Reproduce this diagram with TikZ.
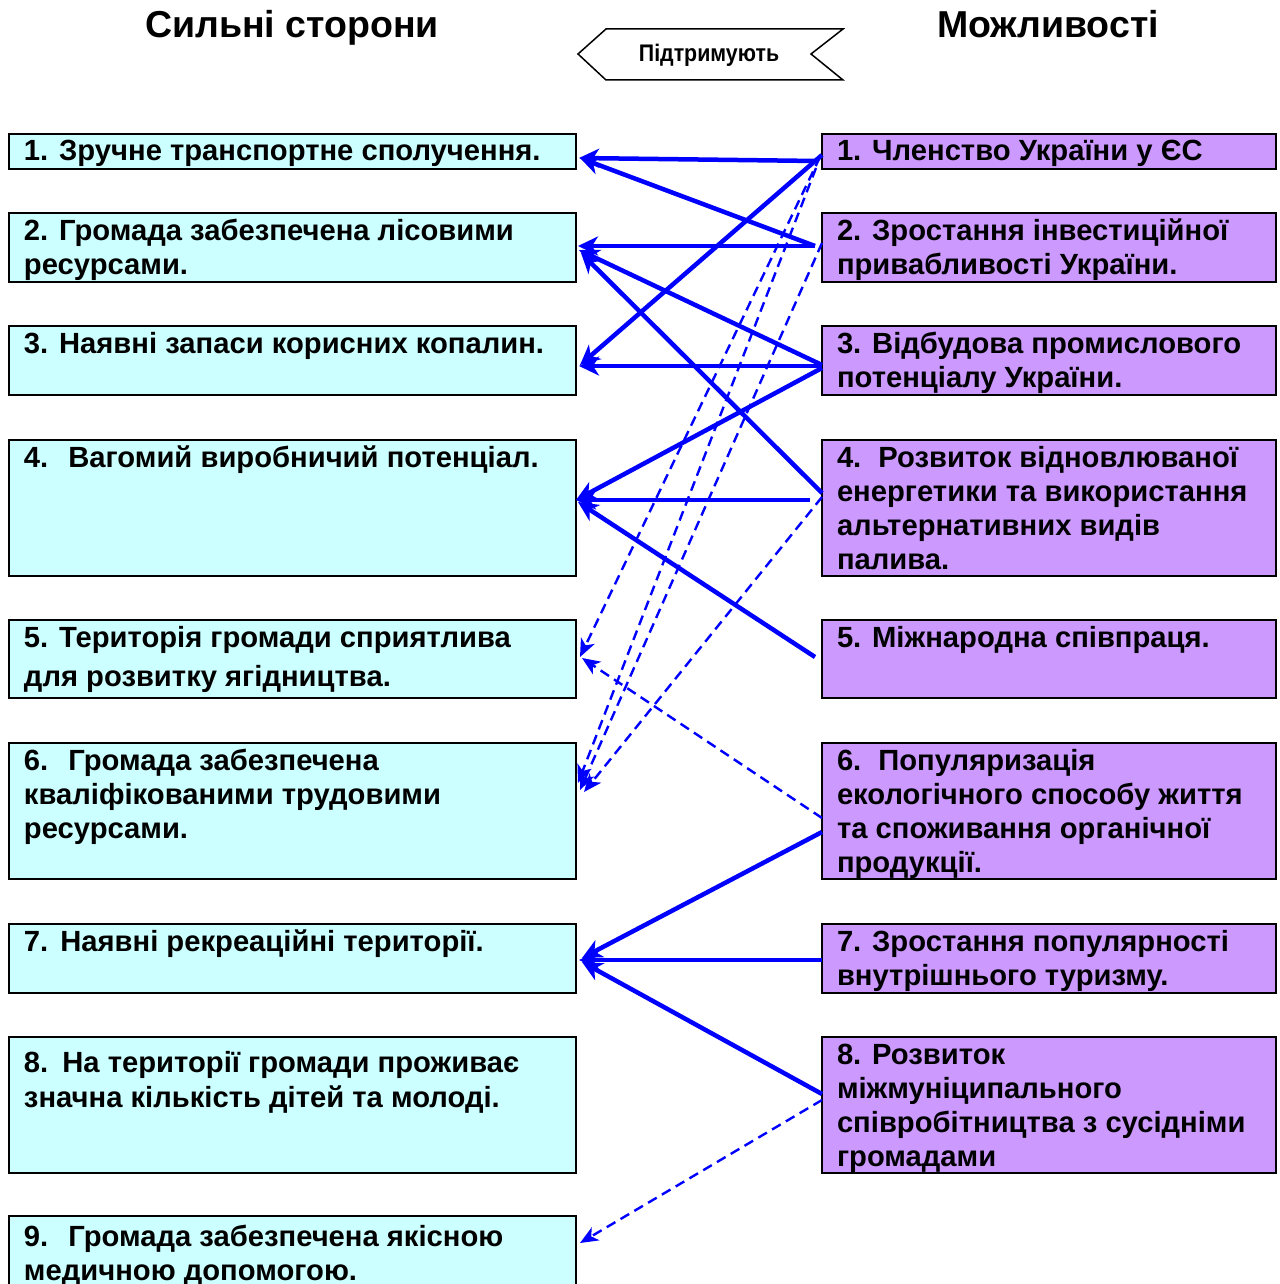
\documentclass[tikz,border=0pt]{standalone}
\usepackage{fontspec}
\setmainfont{Liberation Sans}
\usetikzlibrary{arrows.meta,calc}
\definecolor{scol}{RGB}{204,255,255}
\definecolor{ocol}{RGB}{204,153,255}
\definecolor{lnk}{RGB}{0,0,255}
\newcommand\boxtext[5][27pt]{\parbox[t][#2][t]{#3}{\fontsize{29.2}{#4}\selectfont\bfseries\leftskip=15pt\rightskip=0pt plus 1fil\parindent=0pt\lineskiplimit=-100pt\rule{0pt}{#1}#5}}
\tikzset{
  box/.style={draw=black, line width=2pt, inner sep=0pt, outer sep=0pt, anchor=north west},
  sbox/.style={box, fill=scol},
  obox/.style={box, fill=ocol},
  solidlink/.style={draw=lnk, line width=4.5pt, -{Stealth[length=20pt,width=19pt,inset=6pt]}},
  dashlink/.style={draw=lnk, line width=2.4pt, dash pattern=on 10pt off 6pt, -{Stealth[length=18pt,width=15pt,inset=5pt]}},
  title/.style={font=\fontsize{37.5}{42}\selectfont\bfseries, anchor=base, inner sep=0pt}
}
\begin{document}
\begin{tikzpicture}[x=1pt,y=-1pt]
\useasboundingbox (0,0) rectangle (1279,1284);
\clip (0,0) rectangle (1279,1284);
\fill[white] (0,0) rectangle (1279,1284);

% titles
\node[title] (tS) at (292,38) {Сильні сторони};
\node[title] (tO) at (1048,38) {Можливості};

% banner
\coordinate (b1) at (578,54);
\coordinate (b2) at (606,29);
\coordinate (b3) at (843,29);
\coordinate (b4) at (811,54);
\coordinate (b5) at (843,80);
\coordinate (b6) at (606,80);
\draw[line width=1.5pt, fill=white] (b1) -- (b2) -- (b3) -- (b4) -- (b5) -- (b6) -- cycle;
\node[anchor=base, inner sep=0pt, font=\fontsize{24}{28}\selectfont\bfseries] (sup) at (709,62) {\scalebox{0.89}[1]{Підтримують}};

% left boxes
\node[sbox] (S1) at (9,134) {\boxtext{35pt}{567pt}{34pt}{1. Зручне транспортне сполучення.}};
\node[sbox] (S2) at (9,213) {\boxtext{69pt}{567pt}{34pt}{2. Громада забезпечена лісовими\\ресурсами.}};
\node[sbox] (S3) at (9,326) {\boxtext{69pt}{567pt}{34pt}{3. Наявні запаси корисних копалин.}};
\node[sbox] (S4) at (9,440) {\boxtext{136pt}{567pt}{34pt}{4.\hspace{20pt}Вагомий виробничий потенціал.}};
\node[sbox] (S5) at (9,620) {\boxtext{78pt}{567pt}{39pt}{5. Територія громади сприятлива\\для розвитку ягідництва.}};
\node[sbox] (S6) at (9,743) {\boxtext{136pt}{567pt}{34pt}{6.\hspace{20pt}Громада забезпечена\\кваліфікованими трудовими\\ресурсами.}};
\node[sbox] (S7) at (9,924) {\boxtext{69pt}{567pt}{34pt}{7.\hspace{12pt}Наявні рекреаційні території.}};
\node[sbox] (S8) at (9,1037) {\boxtext[35pt]{136pt}{567pt}{35pt}{8.\hspace{14pt}На території громади проживає\\значна кількість дітей та молоді.}};
\node[sbox] (S9) at (9,1216) {\boxtext[30pt]{136pt}{567pt}{34pt}{9.\hspace{20pt}Громада забезпечена якісною\\медичною допомогою.}};

% right boxes
\node[obox] (O1) at (822,134) {\boxtext{35pt}{454pt}{34pt}{1. Членство України у ЄС}};
\node[obox] (O2) at (822,213) {\boxtext{69pt}{454pt}{34pt}{2. Зростання інвестиційної\\привабливості України.}};
\node[obox] (O3) at (822,326) {\boxtext{69pt}{454pt}{34pt}{3. Відбудова промислового\\потенціалу України.}};
\node[obox] (O4) at (822,440) {\boxtext{136pt}{454pt}{34pt}{4.\hspace{17pt}Розвиток відновлюваної\\енергетики та використання\\альтернативних видів\\палива.}};
\node[obox] (O5) at (822,620) {\boxtext{78pt}{454pt}{34pt}{5. Міжнародна співпраця.}};
\node[obox] (O6) at (822,743) {\boxtext{136pt}{454pt}{34pt}{6.\hspace{17pt}Популяризація\\екологічного способу життя\\та споживання органічної\\продукції.}};
\node[obox] (O7) at (822,924) {\boxtext{69pt}{454pt}{34pt}{7. Зростання популярності\\внутрішнього туризму.}};
\node[obox] (O8) at (822,1037) {\boxtext{136pt}{454pt}{34pt}{8. Розвиток\\міжмуніципального\\співробітництва з сусідніми\\громадами}};

% dashed links
\draw[dashlink] ($(O1.north west)+(-2,23)$) -- ($(S5.north east)+(4,37)$);
\draw[dashlink] ($(O1.north west)+(-6,34)$) -- ($(S6.north east)+(2,40)$);
\draw[dashlink] ($(O2.north west)+(0,30)$) -- ($(S6.north east)+(4,47)$);
\draw[dashlink] ($(O4.north west)+(0,57)$) -- ($(S6.north east)+(8,49)$);
\draw[dashlink] ($(O6.north west)+(0,75)$) -- ($(S5.north east)+(6,38)$);
\draw[dashlink] ($(O8.north west)+(0,63)$) -- ($(S9.north east)+(4,27)$);

% solid links
\draw[solidlink] ($(O1.north west)+(-5,27)$) -- ($(S1.north east)+(3,24)$);
\draw[solidlink] ($(O2.north west)+(-7,33)$) -- ($(S1.north east)+(4,24)$);
\draw[solidlink] ($(O2.north west)+(-7,33)$) -- ($(S2.north east)+(2,33)$);
\draw[solidlink] ($(O1.north west)+(0,21)$) -- ($(S3.north east)+(4,39)$);
\draw[solidlink] ($(O3.north west)+(0,39)$) -- ($(S2.north east)+(3,37)$);
\draw[solidlink] ($(O4.north west)+(0,53)$) -- ($(S2.north east)+(5,40)$);
\draw[solidlink] ($(O3.north west)+(0,40)$) -- ($(S3.north east)+(3,40)$);
\draw[solidlink] ($(O3.north west)+(0,42)$) -- ($(S4.north east)+(0,60)$);
\draw[solidlink] ($(O4.north west)+(-12,60)$) -- ($(S4.north east)+(0,60)$);
\draw[solidlink] ($(O5.north west)+(-7,37)$) -- ($(S4.north east)+(2,62)$);
\draw[solidlink] ($(O6.north west)+(0,89)$) -- ($(S7.north east)+(6,34)$);
\draw[solidlink] ($(O7.north west)+(0,36)$) -- ($(S7.north east)+(3,36)$);
\draw[solidlink] ($(O8.north west)+(0,57)$) -- ($(S7.north east)+(6,38)$);
\end{tikzpicture}
\end{document}
